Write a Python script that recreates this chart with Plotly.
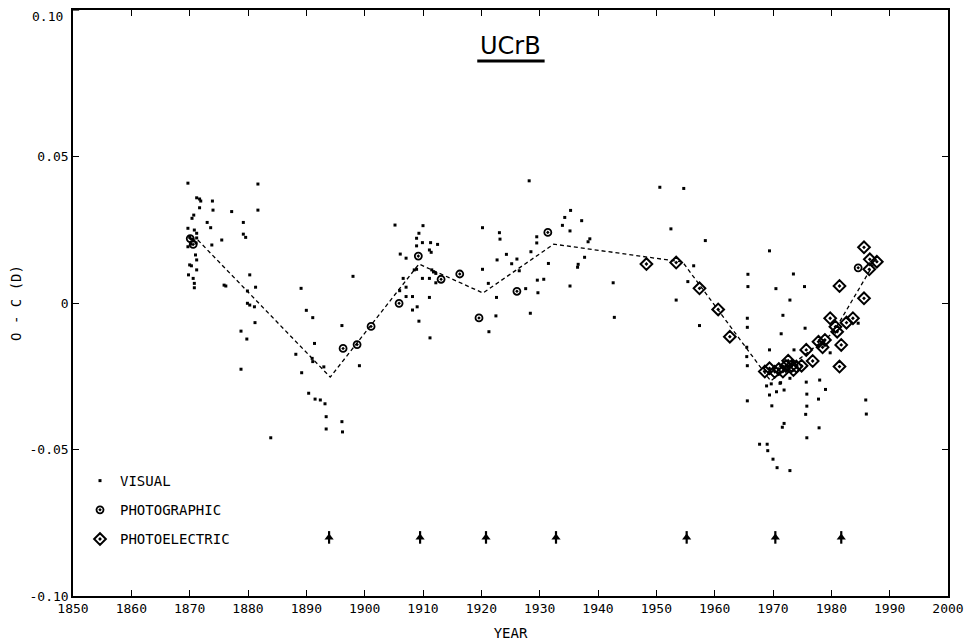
import plotly.graph_objects as go

# ---------------- data ----------------
visual_year = [
    1869.7, 1871.2, 1871.7, 1871.9, 1873.9, 1871.7, 1874.0, 1870.7, 1870.4, 1873.0,
    1873.6, 1869.7, 1870.8, 1871.2, 1870.0, 1870.4, 1870.7, 1871.1, 1870.2, 1871.2,
    1875.5, 1873.8, 1869.7, 1871.0, 1871.2, 1870.0, 1870.3, 1871.2, 1869.8, 1870.6,
    1870.8, 1870.8, 1875.9, 1881.7, 1877.2, 1881.7, 1879.2, 1879.2, 1879.6, 1876.2,
    1880.3, 1881.3, 1879.9, 1879.9, 1880.3, 1881.1, 1881.2, 1878.8, 1879.8, 1878.8,
    1883.9, 1889.1, 1890.0, 1891.1, 1891.4, 1888.2, 1891.0, 1891.1, 1893.0, 1889.2,
    1890.4, 1891.5, 1892.4, 1893.2, 1893.4, 1893.4, 1896.1, 1896.2, 1896.1, 1898.0,
    1899.1, 1905.2, 1906.1, 1907.1, 1906.6, 1907.1, 1906.0, 1907.1, 1908.2, 1908.2,
    1909.0, 1909.3, 1910.0, 1909.3, 1908.9, 1909.9, 1911.3, 1912.5, 1908.9, 1911.1,
    1911.4, 1908.9, 1908.5, 1911.5, 1911.8, 1912.2, 1909.9, 1911.1, 1912.2, 1911.1,
    1911.2, 1920.2, 1923.1, 1923.2, 1920.2, 1921.2, 1922.6, 1922.5, 1921.3, 1922.7,
    1924.3, 1925.2, 1926.1, 1926.5, 1927.6, 1928.2, 1928.5, 1928.4, 1929.5, 1929.5,
    1929.6, 1930.7, 1929.7, 1931.5, 1934.3, 1935.3, 1933.9, 1935.2, 1937.2, 1938.6,
    1938.3, 1937.7, 1936.6, 1936.5, 1935.2, 1942.6, 1942.8, 1950.6, 1954.7, 1952.5,
    1958.4, 1956.4, 1955.4, 1953.4, 1957.4, 1969.4, 1965.7, 1965.7, 1973.5, 1970.5,
    1972.9, 1975.4, 1971.7, 1965.6, 1965.6, 1971.4, 1975.5, 1969.4, 1973.6, 1965.5,
    1965.5, 1965.6, 1984.6, 1979.8, 1968.9, 1969.7, 1971.2, 1969.4, 1970.6, 1971.9,
    1969.8, 1975.7, 1975.8, 1975.8, 1975.6, 1978.0, 1979.0, 1977.8, 1965.6, 1971.9,
    1971.6, 1975.8, 1977.9, 1967.7, 1969.0, 1969.1, 1970.0, 1970.7, 1972.9, 1985.9,
    1986.0, 1972.9, 1971.3,
]
visual_oc = [
    0.0409, 0.0359, 0.0355, 0.0348, 0.0348, 0.0325, 0.0317, 0.0300, 0.0289, 0.0275,
    0.0257, 0.0255, 0.0249, 0.0238, 0.0225, 0.0218, 0.0212, 0.0205, 0.0201, 0.0222,
    0.0215, 0.0198, 0.0192, 0.0164, 0.0147, 0.0130, 0.0127, 0.0113, 0.0096, 0.0084,
    0.0067, 0.0052, 0.0061, 0.0406, 0.0312, 0.0317, 0.0275, 0.0235, 0.0224, 0.0058,
    0.0096, 0.0054, 0.0041, -0.0001, -0.0007, -0.0013, -0.0067, -0.0096, -0.0123, -0.0226,
    -0.0460, 0.0050, -0.0025, -0.0050, -0.0138, -0.0175, -0.0189, -0.0200, -0.0218, -0.0238,
    -0.0308, -0.0328, -0.0331, -0.0344, -0.0388, -0.0430, -0.0405, -0.0440, -0.0077, 0.0091,
    -0.0214, 0.0266, 0.0167, 0.0153, 0.0084, 0.0054, 0.0042, 0.0022, 0.0022, -0.0024,
    -0.0013, -0.0062, 0.0264, 0.0238, 0.0221, 0.0206, 0.0206, 0.0200, 0.0195, 0.0181,
    0.0173, 0.0115, 0.0113, 0.0113, 0.0106, 0.0101, 0.0084, 0.0084, 0.0069, 0.0019,
    -0.0119, 0.0257, 0.0240, 0.0218, 0.0115, 0.0067, 0.0019, -0.0044, -0.0098, 0.0147,
    0.0166, 0.0134, 0.0150, 0.0110, 0.0049, 0.0417, 0.0175, -0.0035, 0.0226, 0.0205,
    0.0078, 0.0081, 0.0035, 0.0135, 0.0292, 0.0316, 0.0265, 0.0246, 0.0281, 0.0219,
    0.0209, 0.0156, 0.0132, 0.0122, 0.0058, 0.0069, -0.0049, 0.0395, 0.0391, 0.0253,
    0.0213, 0.0127, 0.0073, 0.0010, -0.0077, 0.0178, 0.0098, 0.0056, 0.0099, 0.0049,
    0.0010, 0.0056, -0.0042, -0.0052, -0.0083, -0.0105, -0.0086, -0.0160, -0.0160, -0.0151,
    -0.0183, -0.0214, -0.0069, -0.0170, -0.0283, -0.0276, -0.0274, -0.0314, -0.0303, -0.0297,
    -0.0351, -0.0270, -0.0311, -0.0352, -0.0380, -0.0263, -0.0295, -0.0328, -0.0334, -0.0411,
    -0.0424, -0.0460, -0.0426, -0.0482, -0.0482, -0.0504, -0.0533, -0.0562, -0.0572, -0.0331,
    -0.0379, -0.0257, -0.0272,
]

photographic_year = [1870.1, 1870.6, 1896.3, 1898.7, 1901.1, 1905.9, 1909.2, 1913.1,
                     1916.3, 1919.6, 1926.1, 1931.4, 1984.6]
photographic_oc = [0.0220, 0.0200, -0.0155, -0.0142, -0.0080, -0.0001, 0.0160, 0.0081,
                   0.0099, -0.0051, 0.0040, 0.0241, 0.0120]

photoelectric_year = [
    1948.3, 1953.4, 1957.4, 1960.6, 1962.6, 1968.6, 1969.4, 1970.3, 1971.0, 1971.7,
    1972.2, 1972.6, 1973.2, 1973.5, 1974.0, 1974.9, 1975.7, 1976.8, 1977.8, 1978.5,
    1978.9, 1979.8, 1980.7, 1981.0, 1981.7, 1981.4, 1981.4, 1982.6, 1983.7, 1985.6,
    1985.6, 1986.6, 1987.8, 1986.5,
]
photoelectric_oc = [
    0.0133, 0.0138, 0.0050, -0.0022, -0.0115, -0.0234, -0.0223, -0.0235, -0.0225, -0.0234,
    -0.0215, -0.0197, -0.0215, -0.0229, -0.0217, -0.0214, -0.0160, -0.0198, -0.0132, -0.0151,
    -0.0126, -0.0052, -0.0081, -0.0098, -0.0143, -0.0217, 0.0058, -0.0067, -0.0052, 0.0016,
    0.0190, 0.0149, 0.0141, 0.0115,
]

# piecewise linear ephemeris (dashed line)
fit_year = [1871.4, 1894.1, 1909.3, 1920.3, 1932.4, 1954.5, 1969.6, 1980.3, 1987.6]
fit_oc = [0.0215, -0.0253, 0.0133, 0.0034, 0.0201, 0.0140, -0.0266, -0.0102, 0.0145]

# arrows marking period changes
arrow_year = [1893.9, 1909.5, 1920.8, 1932.8, 1955.2, 1970.4, 1981.7]
arrow_oc = [-0.080] * len(arrow_year)

x_ticks = list(range(1850, 2001, 10))
y_ticks = [0.05, 0.0, -0.05, -0.10]
y_tick_text = ["0.05", "0", "-0.05", "-0.10"]
y_top_tick = 0.10
y_top_text = "0.10"

FONT = "DejaVu Sans Mono"

fig = go.Figure()

fig.add_trace(go.Scatter(
    x=fit_year, y=fit_oc, mode="lines",
    line=dict(color="black", width=1.3, dash="4px,3px"),
    showlegend=False, hoverinfo="skip"))

fig.add_trace(go.Scatter(
    x=visual_year, y=visual_oc, mode="markers", name="VISUAL",
    marker=dict(symbol="square", size=3, color="black"),
    legendgroup="a"))

fig.add_trace(go.Scatter(
    x=photographic_year, y=photographic_oc, mode="markers", name="PHOTOGRAPHIC",
    marker=dict(symbol="circle-open-dot", size=7, color="black",
                line=dict(color="black", width=1.8)),
    legendgroup="b"))

fig.add_trace(go.Scatter(
    x=photoelectric_year, y=photoelectric_oc, mode="markers", name="PHOTOELECTRIC",
    marker=dict(symbol="diamond-open-dot", size=9, color="black",
                line=dict(color="black", width=2)),
    legendgroup="c"))

# arrows: stem + head
fig.add_trace(go.Scatter(
    x=arrow_year, y=arrow_oc, mode="markers",
    marker=dict(symbol="line-ns", size=9, color="black",
                line=dict(color="black", width=2.2)),
    showlegend=False, hoverinfo="skip"))
fig.add_trace(go.Scatter(
    x=arrow_year, y=arrow_oc, mode="markers",
    marker=dict(symbol="triangle-up", size=8, color="black",
                line=dict(width=0)),
    showlegend=False, hoverinfo="skip"))

axis_common = dict(
    showline=True, linecolor="black", linewidth=1.5, mirror="ticks",
    ticks="inside", ticklen=6, tickwidth=1.2, tickcolor="black",
    showgrid=False, zeroline=False, automargin=False,
    ticklabeloverflow="allow",
    tickfont=dict(family=FONT, size=13, color="black"),
)

# page body has an 8px default margin, so the figure is sized/shifted for it
fig.update_layout(
    width=966, height=633,
    margin=dict(l=65, r=26, t=2, b=45),
    paper_bgcolor="white", plot_bgcolor="white",
    font=dict(family=FONT, color="black"),
    xaxis=dict(range=[1850, 2000], tickvals=x_ticks,
               title=dict(text="YEAR", font=dict(family=FONT, size=14), standoff=21),
               **axis_common),
    yaxis=dict(range=[-0.10, 0.10], tickvals=y_ticks, ticktext=y_tick_text,
               title=dict(text="O - C (D)", font=dict(family=FONT, size=14), standoff=18),
               **axis_common),
    legend=dict(x=0.008, y=0.2235, xanchor="left", yanchor="top",
                bgcolor="rgba(0,0,0,0)", font=dict(family=FONT, size=14),
                traceorder="grouped", tracegroupgap=8, itemwidth=30),
    showlegend=True,
    annotations=[
        dict(text="UCrB", xref="paper", yref="paper", x=0.5, y=0.938,
             xanchor="center", yanchor="middle", showarrow=False,
             font=dict(family="DejaVu Sans", size=24, color="black")),
        # top y tick label, kept inside the page
        dict(text=y_top_text, xref="paper", yref="y", x=0, y=y_top_tick,
             xanchor="right", yanchor="top", xshift=-8, yshift=3, showarrow=False,
             font=dict(family=FONT, size=13, color="black")),
    ],
    shapes=[
        dict(type="line", xref="paper", yref="paper", x0=0.462, x1=0.539,
             y0=0.913, y1=0.913, line=dict(color="black", width=3)),
        # tick mark for the top y value (label drawn as annotation)
        dict(type="line", xref="paper", yref="y", x0=0, x1=0.007,
             y0=y_top_tick, y1=y_top_tick, line=dict(color="black", width=1.2)),
    ],
)

fig.write_html("out.html")
